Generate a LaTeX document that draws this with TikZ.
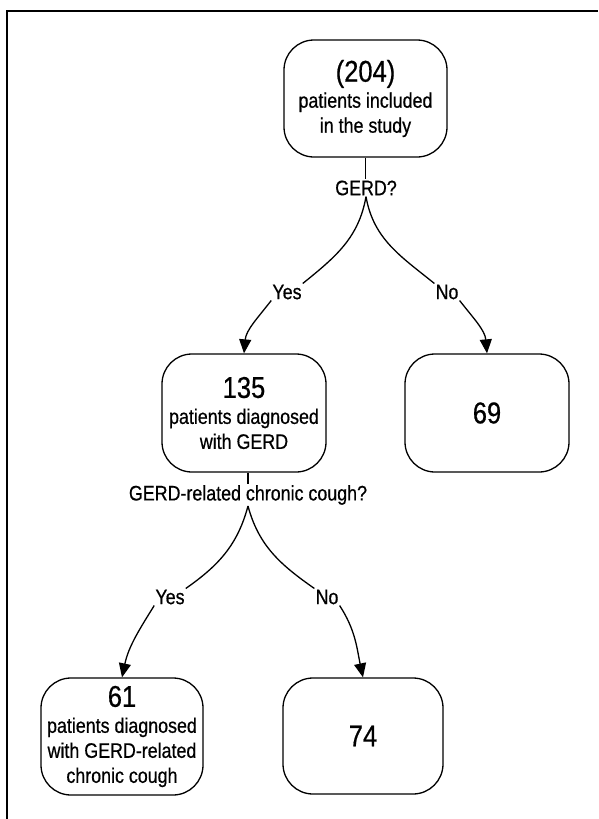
\documentclass[tikz,border=0pt]{standalone}
\usepackage{fontspec}
\setmainfont{Liberation Sans}[FakeStretch=0.85,FakeBold=0.6]
\usetikzlibrary{arrows.meta}
\begin{document}
\begin{tikzpicture}[x=1pt,y=-1pt,
  box/.style={draw, line width=1.3pt, rounded corners=30pt, align=center,
    font=\fontsize{21}{25}\selectfont, inner sep=0pt},
  lbl/.style={font=\fontsize{21}{24}\selectfont, inner sep=1pt},
  conn/.style={line width=1.3pt},
  arr/.style={conn, -{Triangle[length=14pt,width=12pt]}}]
\useasboundingbox (0,0) rectangle (598,819);
\draw[line width=2pt] (7,819) -- (7,11) -- (598,11);

\node[box, minimum width=163pt, minimum height=117pt] (top) at (365.5,98.5)
  {{\fontsize{30}{32}\selectfont (204)}\\[1pt] patients included\\ in the study};
\node[box, minimum width=164pt, minimum height=118pt] (n135) at (244,413)
  {{\fontsize{30}{32}\selectfont 135}\\[1pt] patients diagnosed\\ with GERD};
\node[box, minimum width=164pt, minimum height=118pt] (n69) at (487,413)
  {\fontsize{30}{32}\selectfont 69};
\node[box, minimum width=162pt, minimum height=117pt] (n61) at (122,736.5)
  {{\fontsize{30}{32}\selectfont 61}\\[1pt] patients diagnosed\\ with GERD-related\\ chronic cough};
\node[box, minimum width=160pt, minimum height=116pt] (n74) at (363,736)
  {\fontsize{30}{32}\selectfont 74};

\node[lbl] (gerd) at (366,188) {GERD?};
\node[lbl] (yes1) at (287,292) {Yes};
\node[lbl] (no1) at (447,292) {No};
\node[lbl] (q2) at (248,495) {GERD-related chronic cough?};
\node[lbl] (yes2) at (170,597) {Yes};
\node[lbl] (no2) at (327,597) {No};

\draw[conn] (top.south) -- (gerd.north -| top.south);
\draw[conn] (gerd.south) to[out=-100,in=39] (yes1.north east);
\draw[conn] (gerd.south) to[out=-80,in=141] (no1.north west);
\draw[arr] (yes1.south west) to[out=-128,in=85] (n135.north);
\draw[arr] (no1.south east) to[out=-52,in=95] (n69.north);

\draw[conn] (n135.south -| q2.north) -- (q2.north);
\draw[conn] (q2.south) to[out=-105,in=35] (yes2.north east);
\draw[conn] (q2.south) to[out=-75,in=145] (no2.north west);
\draw[arr] (yes2.south west) to[out=-122,in=78] (n61.north);
\draw[arr] (no2.south east) to[out=-57,in=102] (n74.north);
\end{tikzpicture}
\end{document}
